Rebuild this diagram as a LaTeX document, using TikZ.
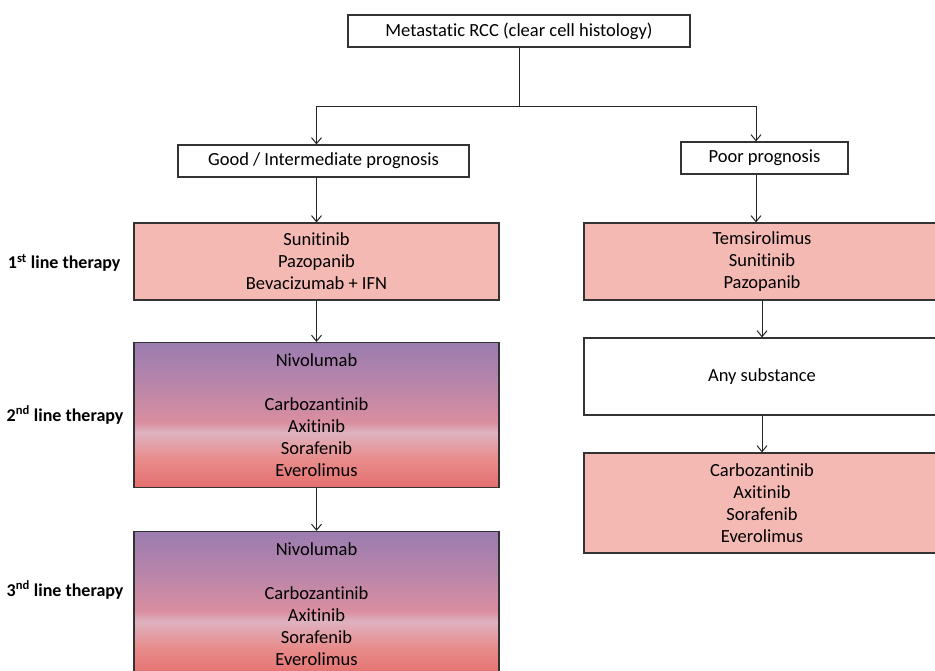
\documentclass[tikz,border=0pt]{standalone}
\usepackage{fontspec}
\setmainfont{Carlito}[Ligatures=NoCommon]
\usepackage{tikz}
\usetikzlibrary{positioning,arrows.meta}

\definecolor{boxpink}{RGB}{245,185,180}
\definecolor{gradbot}{RGB}{228,112,110}
\definecolor{gradlow}{RGB}{232,140,140}
\definecolor{gradlight}{RGB}{222,178,192}
\definecolor{gradmid}{RGB}{218,142,159}
\definecolor{gradup}{RGB}{186,134,170}
\definecolor{gradtop}{RGB}{154,124,175}
\pgfdeclareverticalshading{linegrad}{100bp}{color(0bp)=(gradbot); color(25bp)=(gradbot); color(35bp)=(gradlow); color(44bp)=(gradlight); color(47.5bp)=(gradmid); color(60bp)=(gradup); color(75bp)=(gradtop); color(100bp)=(gradtop)}

\begin{document}
\begin{tikzpicture}[x=1pt,y=-1pt,
						>={Straight Barb[length=6pt,width=10pt]},
						plainbox/.style={rectangle, draw=black!80, line width=1.2pt, fill=white, align=center, font=\fontsize{18.5}{22}\selectfont},
						drugbox/.style={plainbox, fill=boxpink},
						gradbox/.style={plainbox, shading=linegrad},
						linelabel/.style={anchor=east, font=\fontsize{18}{22}\selectfont\bfseries},
						link/.style={line width=1pt, draw=black!85},
						]
						\useasboundingbox (0,0) rectangle (935,670);
						%Nodes
						\node[plainbox, minimum width=342pt, minimum height=32pt]   (top)   at (519,31)      {Metastatic RCC (clear cell histology)};
						\node[plainbox, minimum width=291pt, minimum height=32pt]   (good)  at (323.5,161)   {Good / Intermediate prognosis};
						\node[plainbox, minimum width=167pt, minimum height=32pt]   (poor)  at (764.5,158)   {Poor prognosis};
						\node[drugbox, minimum width=365pt, minimum height=77pt]    (first) at (316.5,261.5) {Sunitinib\\Pazopanib\\Bevacizumab + IFN};
						\node[gradbox, minimum width=365pt, minimum height=145pt]   (second) at (316.5,415) {Nivolumab\\[22pt]Carbozantinib\\Axitinib\\Sorafenib\\Everolimus};
						\node[gradbox, minimum width=365pt, minimum height=145pt]   (third) at (316.5,604) {Nivolumab\\[22pt]Carbozantinib\\Axitinib\\Sorafenib\\Everolimus};
						\node[drugbox, minimum width=356pt, minimum height=77pt]    (temsi) at (762,261.5)   {Temsirolimus\\Sunitinib\\Pazopanib};
						\node[plainbox, minimum width=356pt, minimum height=77pt]   (any)   at (762,376.5)   {Any substance};
						\node[drugbox, minimum width=356pt, minimum height=100pt]   (later) at (762,503)     {Carbozantinib\\Axitinib\\Sorafenib\\Everolimus};
						\node[linelabel] (l1) at (124,263) {1\textsuperscript{st} line therapy};
						\node[linelabel] (l2) at (127,415) {2\textsuperscript{nd} line therapy};
						\node[linelabel] (l3) at (127,590) {3\textsuperscript{nd} line therapy};
						\coordinate (split) at (519,106);
						\coordinate (rcol)  at (756,106);

						%Lines
						\draw[link] (top.south) -- (split);
						\draw[link] (split) -- (rcol);
						\draw[link,->] (split) -| (first.north |- good.north);
						\draw[link,->] (rcol) -- (rcol |- poor.north);

						\draw[link,->] (first.north |- good.south) -- (first.north);
						\draw[link,->] (first.south) -- (second.north);
						\draw[link,->] (second.south) -- (third.north);

						\draw[link,->] (rcol |- poor.south) -- (rcol |- temsi.north);
						\draw[link,->] (temsi.south) -- (any.north);
						\draw[link,->] (any.south) -- (later.north);
					\end{tikzpicture}
\end{document}
